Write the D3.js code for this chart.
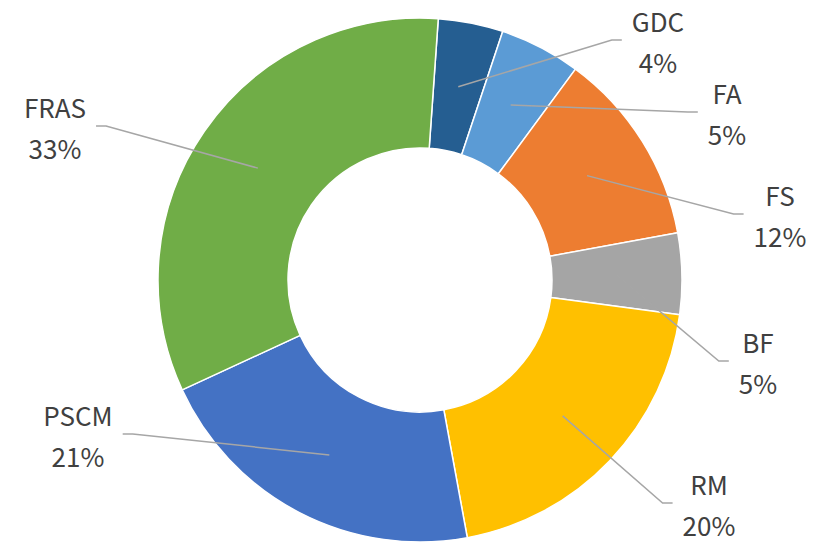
<!DOCTYPE html>
<html>
<head>
<meta charset="utf-8">
<script src="https://cdn.jsdelivr.net/npm/d3@7"></script>
<style>
  html, body { margin: 0; padding: 0; background: #fff; }
  svg { display: block; }
</style>
</head>
<body>
<svg id="chart" width="827" height="543"></svg>
<script>
// Share of each category, in percent, clockwise from the top
const categories = ["GDC", "FA", "FS", "BF", "RM", "PSCM", "FRAS"];
const shares = [4, 5, 12, 5, 20, 21, 33];
const colors = ["#255E91", "#5B9BD5", "#ED7D31", "#A5A5A5", "#FFC000", "#4472C4", "#70AD47"];

// Label block centres (x, y of the two-line block) and the side the leader line enters from
const labelCentres = [[658, 41], [727, 113], [780, 215], [758, 362], [709, 504], [78, 435], [55, 127]];
const labelSides = ["right", "right", "right", "right", "right", "left", "left"];

const width = 827, height = 543;
const cx = 420, cy = 280;
const outerR = 262, innerR = 132;
const startDeg = 4;

const svg = d3.select("#chart");
const g = svg.append("g").attr("transform", `translate(${cx},${cy})`);

const pie = d3.pie()
  .sort(null)
  .startAngle(startDeg * Math.PI / 180)
  .endAngle((360 + startDeg) * Math.PI / 180)
  .value(d => d.value);

const data = categories.map((c, i) => ({ name: c, value: shares[i], color: colors[i], i }));
const arcs = pie(data);

const arc = d3.arc().innerRadius(innerR).outerRadius(outerR);

g.selectAll("path.slice")
  .data(arcs)
  .join("path")
  .attr("class", "slice")
  .attr("d", arc)
  .attr("fill", d => d.data.color)
  .attr("stroke", "#ffffff")
  .attr("stroke-width", 1.5)
  .attr("stroke-linejoin", "round");

// Labels: name on the first line, percentage on the second
const fontSize = 26;
const lineGap = 41;
const labels = svg.append("g")
  .attr("font-family", "'Noto Sans CJK SC', 'Source Sans Pro', 'Noto Sans', sans-serif")
  .attr("font-size", fontSize)
  .attr("fill", "#404040")
  .attr("text-anchor", "middle");

const leaderLayer = svg.insert("g", "g + g");

arcs.forEach((a, k) => {
  const [lx, ly] = labelCentres[k];
  const t = labels.append("text")
    .attr("x", lx)
    .attr("y", ly - lineGap / 2)
    .attr("dominant-baseline", "central");
  t.text(a.data.name);
  const t2 = labels.append("text")
    .attr("x", lx)
    .attr("y", ly + lineGap / 2)
    .attr("dominant-baseline", "central")
    .text(d3.format(".0f")(a.data.value) + "%");

  const w = Math.max(t.node().getBBox().width, t2.node().getBBox().width);
  const [sx, sy] = arc.centroid(a);
  const side = labelSides[k];
  const endX = side === "right" ? lx - w / 2 - 10 : lx + w / 2 + 10;
  const endY = ly - 1;
  const elbowX = side === "right" ? endX - 10 : endX + 10;

  leaderLayer.append("polyline")
    .attr("points", [[cx + sx, cy + sy], [elbowX, endY], [endX, endY]].map(p => p.join(",")).join(" "))
    .attr("fill", "none")
    .attr("stroke", "#A6A6A6")
    .attr("stroke-width", 1.5);
});
</script>
</body>
</html>
